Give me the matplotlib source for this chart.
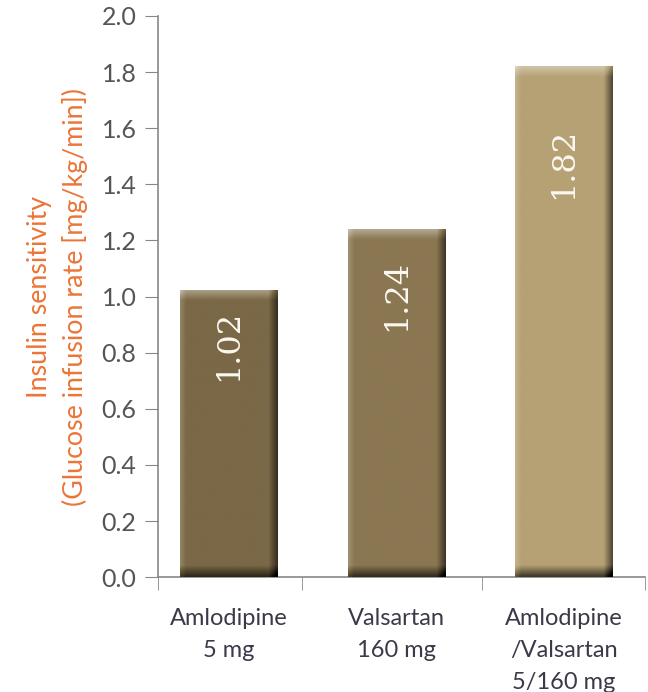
import numpy as np
import matplotlib.pyplot as plt
from matplotlib.colors import to_rgb

# Veriler
categories = ["Amlodipine\n5 mg", "Valsartan\n160 mg", "Amlodipine\n/Valsartan\n5/160 mg"]
values = [1.02, 1.24, 1.82]
bar_colors = ["#7a6846", "#8a7752", "#b5a174"]
yticks = [0.0, 0.2, 0.4, 0.6, 0.8, 1.0, 1.2, 1.4, 1.6, 1.8, 2.0]

plt.rcParams['font.family'] = ['Lato', 'DejaVu Sans']

fig = plt.figure(figsize=(6.48, 6.92), dpi=100)
ax = fig.add_axes([0.244, 0.166, 0.751, 0.811])

x = np.arange(len(categories))
bars = ax.bar(x, values, width=0.58, color=bar_colors, zorder=2)

# kabartma efekti (kenar gölgeleri)
for b, c in zip(bars, bar_colors):
    x0, w, h = b.get_x(), b.get_width(), b.get_height()
    rgb = np.array(to_rgb(c))
    nx, ny = 80, 300
    u = np.linspace(0, 1, nx)[None, :]
    v = np.linspace(0, 1, ny)[:, None]  # 0 ust, 1 alt
    shade = np.zeros((ny, nx))
    shade += -0.55 * np.clip((u - 0.91) / 0.09, 0, 1)       # sag kenar koyu
    shade += 0.18 * np.clip((0.06 - u) / 0.06, 0, 1)        # sol kenar acik
    top_px = 0.035 / h
    shade += 0.35 * np.clip((top_px - v) / top_px, 0, 1)    # ust acik
    bot_px = 0.04 / h
    shade += -0.65 * np.clip((v - (1 - bot_px)) / bot_px, 0, 1)  # alt koyu
    img = np.empty((ny, nx, 3))
    for k in range(3):
        ch = rgb[k] * np.ones((ny, nx))
        img[..., k] = np.where(shade > 0, ch + (1 - ch) * shade, ch * (1 + shade))
    ax.imshow(np.clip(img, 0, 1), extent=[x0, x0 + w, 0, h], aspect='auto', zorder=3,
              interpolation='bilinear')

for xi, v in zip(x, values):
    ax.text(xi, v * 0.81, f"{v:.2f}", rotation=90, ha='center', va='center',
            color='#fbf8f2', fontsize=23, family=['DejaVu Serif'], zorder=4)

ax.set_xlim(-0.42, 2.483)
ax.set_ylim(0, 2.0)
ax.set_yticks(yticks)
ax.set_yticklabels([f"{t:.1f}" for t in yticks], fontsize=18, color='#555555')
ax.set_xticks(x)
ax.set_xticklabels(categories, fontsize=17, color='#3a3a48', linespacing=1.65, va='top')
ax.tick_params(axis='x', length=0, pad=22)
ax.set_xticks([-0.42, 0.438, 1.511, 2.483], minor=True)
ax.tick_params(axis='x', which='minor', length=9.5, color='#888888', direction='out')
ax.tick_params(axis='y', length=9.5, color='#888888', direction='out', pad=6)

for s in ['top', 'right']:
    ax.spines[s].set_visible(False)
for s in ['left', 'bottom']:
    ax.spines[s].set_color('#888888')
    ax.spines[s].set_linewidth(1.2)

ax.set_ylabel("Insulin sensitivity\n(Glucose infusion rate [mg/kg/min])",
              color='#ec7436', fontsize=19.3, labelpad=10, linespacing=1.45)

fig.savefig('out.png', dpi=100)
